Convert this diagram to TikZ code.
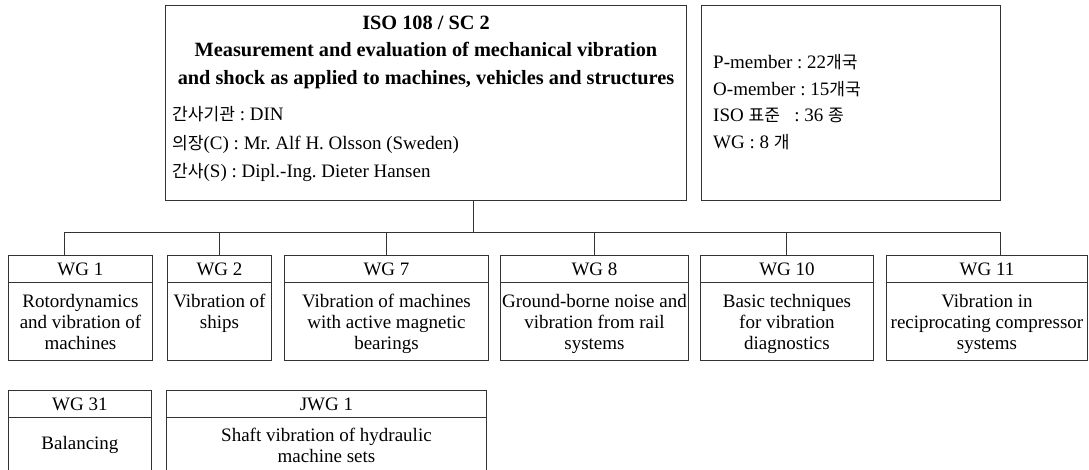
\documentclass[tikz,border=0pt]{standalone}
\usepackage{fontspec}
\setmainfont{Liberation Serif}
\newfontfamily\kr[Scale=0.9]{Noto Sans CJK KR}
\frenchspacing
\begin{document}
\begin{tikzpicture}[x=1pt,y=-1pt,
  frame/.style={draw=black!80, line width=0.9pt, rectangle, inner sep=0pt, anchor=north west},
  link/.style={draw=black!80, line width=0.9pt},
  txt/.style={inner sep=0pt, align=center, font=\fontsize{19}{21}\selectfont},
  boldtxt/.style={inner sep=0pt, align=center, font=\fontsize{20.3}{27.5}\selectfont\bfseries},
  lefttxt/.style={inner sep=0pt, align=left, anchor=west}]
\useasboundingbox (0,0) rectangle (1089,470);
% top boxes
\node[frame, minimum width=521, minimum height=195] (sc) at (165,5) {};
\node[frame, minimum width=299, minimum height=195] (info) at (701,5) {};
\node[boldtxt] (title) at (426,52) {ISO 108 / SC 2\\Measurement and evaluation of mechanical vibration\\and shock as applied to machines, vehicles and structures};
\node[lefttxt, font=\fontsize{19}{28.5}\selectfont] (staff) at (172,144) {{\kr 간사기관} : DIN\\{\kr 의장}(C) : Mr. Alf H. Olsson (Sweden)\\{\kr 간사}(S) : Dipl.-Ing. Dieter Hansen};
\node[lefttxt, font=\fontsize{19}{26.7}\selectfont] (infotxt) at (713,102) {P-member : 22{\kr 개국}\\O-member : 15{\kr 개국}\\ISO {\kr 표준}\ \ \ : 36 {\kr 종}\\WG : 8 {\kr 개}};
% bus
\coordinate (busL) at (64,232);
\coordinate (busR) at (1000,232);
\coordinate (busM) at (473,232);
\draw[link] (busM |- sc.south) -- (busM);
\draw[link] (busL) -- (busR);
% row 1
\node[frame, minimum width=144, minimum height=27] (wg1h) at (8,255) {};
\node[frame, minimum width=144, minimum height=78] (wg1b) at (8,282) {};
\node[txt] (wg1ht) at (wg1h.center) {WG 1};
\node[txt, anchor=north] (wg1bt) at ([yshift=-12pt]wg1b.north) {Rotordynamics\\and vibration of\\machines};

\node[frame, minimum width=104, minimum height=27] (wg2h) at (167,255) {};
\node[frame, minimum width=104, minimum height=78] (wg2b) at (167,282) {};
\node[txt] (wg2ht) at (wg2h.center) {WG 2};
\node[txt, anchor=north] (wg2bt) at ([yshift=-12pt]wg2b.north) {Vibration of\\ships};

\node[frame, minimum width=204, minimum height=27] (wg7h) at (284,255) {};
\node[frame, minimum width=204, minimum height=78] (wg7b) at (284,282) {};
\node[txt] (wg7ht) at (wg7h.center) {WG 7};
\node[txt, anchor=north] (wg7bt) at ([yshift=-12pt]wg7b.north) {Vibration of machines\\with active magnetic\\bearings};

\node[frame, minimum width=188, minimum height=27] (wg8h) at (500,255) {};
\node[frame, minimum width=188, minimum height=78] (wg8b) at (500,282) {};
\node[txt] (wg8ht) at (wg8h.center) {WG 8};
\node[txt, anchor=north] (wg8bt) at ([yshift=-12pt]wg8b.north) {Ground-borne noise and\\vibration from rail\\systems};

\node[frame, minimum width=173, minimum height=27] (wg10h) at (700,255) {};
\node[frame, minimum width=173, minimum height=78] (wg10b) at (700,282) {};
\node[txt] (wg10ht) at (wg10h.center) {WG 10};
\node[txt, anchor=north] (wg10bt) at ([yshift=-12pt]wg10b.north) {Basic techniques\\for vibration\\diagnostics};

\node[frame, minimum width=201, minimum height=27] (wg11h) at (886,255) {};
\node[frame, minimum width=201, minimum height=78] (wg11b) at (886,282) {};
\node[txt] (wg11ht) at (wg11h.center) {WG 11};
\node[txt, anchor=north] (wg11bt) at ([yshift=-12pt]wg11b.north) {Vibration in\\reciprocating compressor\\systems};
% drops
\draw[link] (busL) -- (busL |- wg1h.north);
\draw[link] (219,232) coordinate (d2) -- (d2 |- wg2h.north);
\draw[link] (386,232) coordinate (d7) -- (d7 |- wg7h.north);
\draw[link] (594,232) coordinate (d8) -- (d8 |- wg8h.north);
\draw[link] (786,232) coordinate (d10) -- (d10 |- wg10h.north);
\draw[link] (busR) -- (busR |- wg11h.north);
% row 2
\node[frame, minimum width=143, minimum height=27] (wg31h) at (8,390) {};
\node[frame, minimum width=143, minimum height=56] (wg31b) at (8,417) {};
\node[txt] (wg31ht) at (wg31h.center) {WG 31};
\node[txt] (wg31bt) at (wg31b.center) {Balancing};

\node[frame, minimum width=320, minimum height=27] (jwg1h) at (166,390) {};
\node[frame, minimum width=320, minimum height=56] (jwg1b) at (166,417) {};
\node[txt] (jwg1ht) at (jwg1h.center) {JWG 1};
\node[txt] (jwg1bt) at (jwg1b.center) {Shaft vibration of hydraulic\\machine sets};
\end{tikzpicture}
\end{document}
